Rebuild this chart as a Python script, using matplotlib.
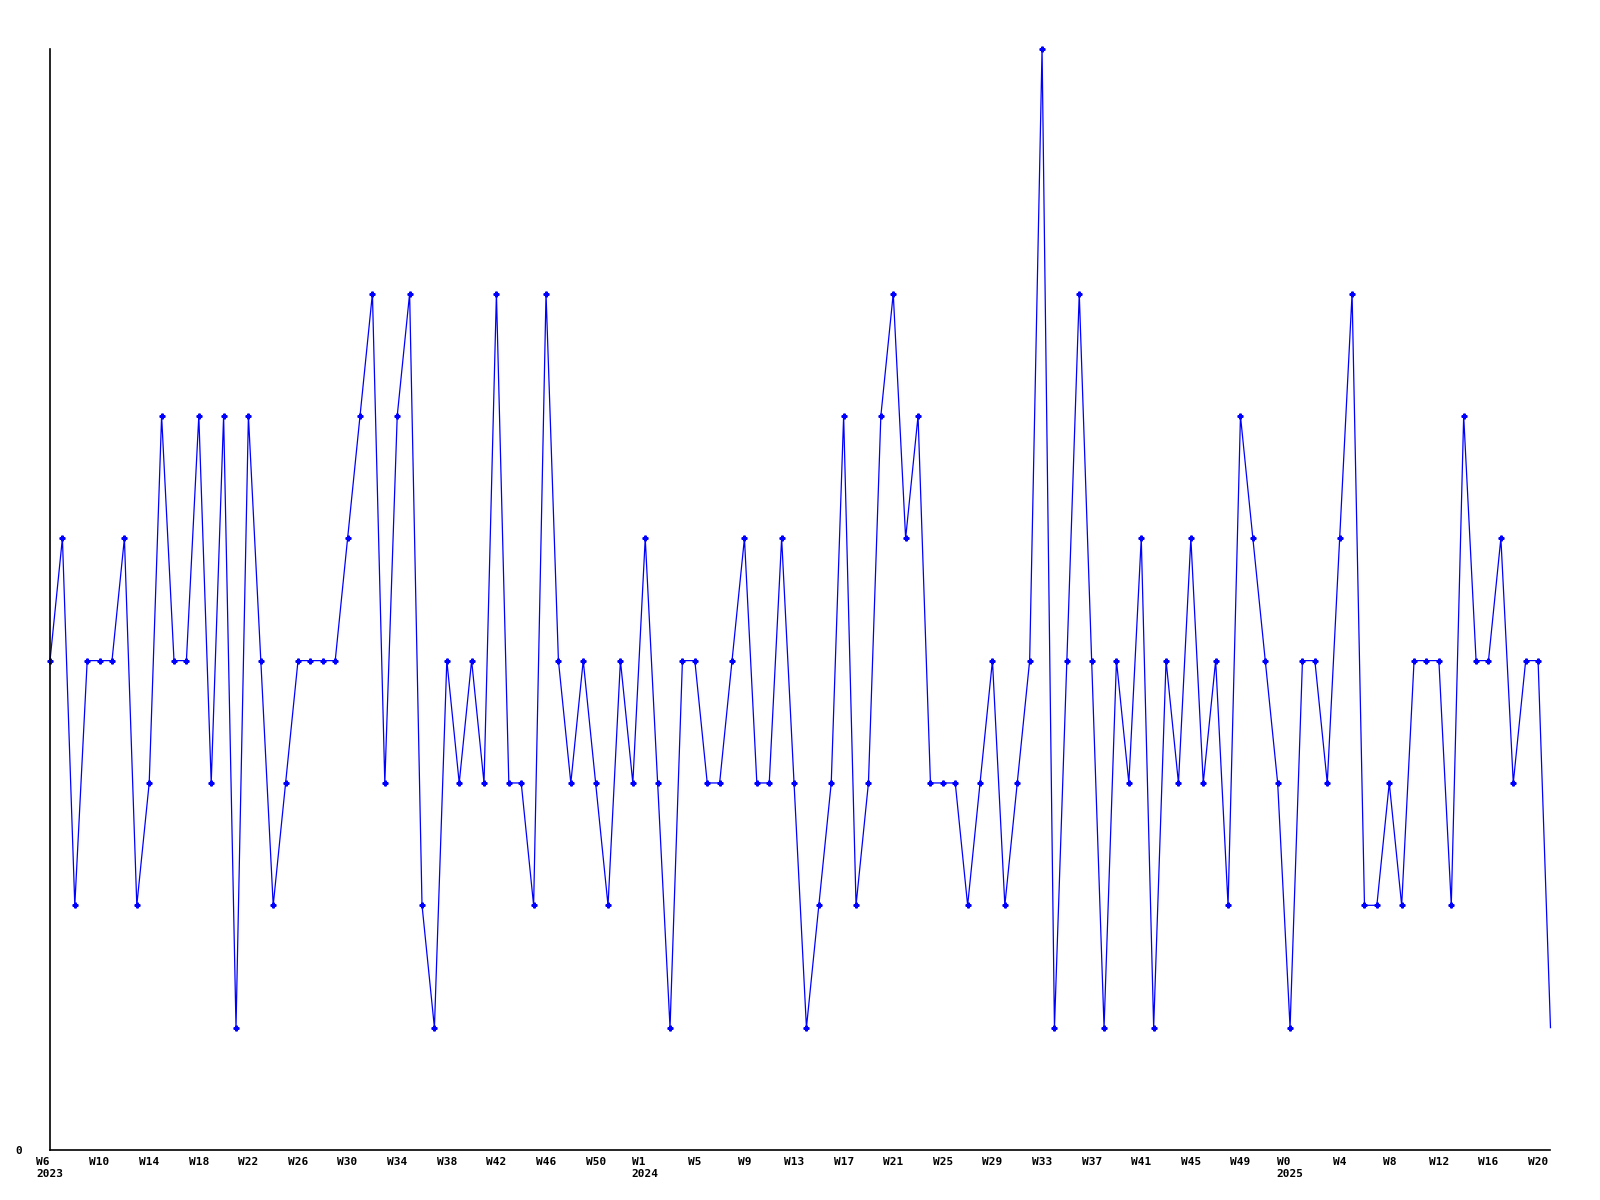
# Contagem semanal - linha com marcadores

import matplotlib
matplotlib.use("Agg")
import matplotlib.pyplot as plt

# Valores semanais (2023 W6 .. 2025 W21)
valores = [
    4, 5, 2, 4, 4, 4, 5, 2, 3, 6,
    4, 4, 6, 3, 6, 1, 6, 4, 2, 3,
    4, 4, 4, 4, 5, 6, 7, 3, 6, 7,
    2, 1, 4, 3, 4, 3, 7, 3, 3, 2,
    7, 4, 3, 4, 3, 2, 4, 3, 5, 3,
    1, 4, 4, 3, 3, 4, 5, 3, 3, 5,
    3, 1, 2, 3, 6, 2, 3, 6, 7, 5,
    6, 3, 3, 3, 2, 3, 4, 2, 3, 4,
    9, 1, 4, 7, 4, 1, 4, 3, 5, 1,
    4, 3, 5, 3, 4, 2, 6, 5, 4, 3,
    1, 4, 4, 3, 5, 7, 2, 2, 3, 2,
    4, 4, 4, 2, 6, 4, 4, 5, 3, 4,
    4, 1,
]

rotulos_semana = [
    "W6", "W10", "W14", "W18", "W22", "W26", "W30", "W34", "W38", "W42", "W46", "W50",
    "W1", "W5", "W9", "W13", "W17", "W21", "W25", "W29", "W33", "W37", "W41", "W45", "W49",
    "W0", "W4", "W8", "W12", "W16", "W20",
]
anos = {"W6": "2023", "W1": "2024", "W0": "2025"}

x = list(range(len(valores)))
ticks = list(range(0, 4 * len(rotulos_semana), 4))
labels = [f"{r}\n{anos[r]}" if r in anos else r for r in rotulos_semana]

fig = plt.figure(figsize=(16, 12), dpi=100)
ax = fig.add_axes([0.03125, 0.0417, 0.9378, 0.9175])

# ultimo ponto (semana corrente) sem marcador
ax.plot(x, valores, color="#0000ff", linewidth=0.9, clip_on=False,
        marker="P", markersize=3.5, markevery=list(range(len(valores) - 1)))

ax.set_xlim(0, len(valores) - 1)
ax.set_ylim(0, 9)

ax.set_xticks(ticks)
ax.set_xticklabels(labels, fontfamily="DejaVu Sans Mono", fontweight="bold",
                   fontsize=8, multialignment="left", linespacing=1.3)
ax.set_yticks([0])
ax.set_yticklabels(["0"], fontfamily="DejaVu Sans Mono", fontweight="bold", fontsize=8)
ax.tick_params(axis="x", length=0, pad=5)
ax.tick_params(axis="y", length=0, pad=20)

for lado in ["top", "right"]:
    ax.spines[lado].set_visible(False)
ax.spines["left"].set_linewidth(1.2)
ax.spines["bottom"].set_linewidth(1.2)

fig.savefig("out.png", dpi=100, facecolor="white")
